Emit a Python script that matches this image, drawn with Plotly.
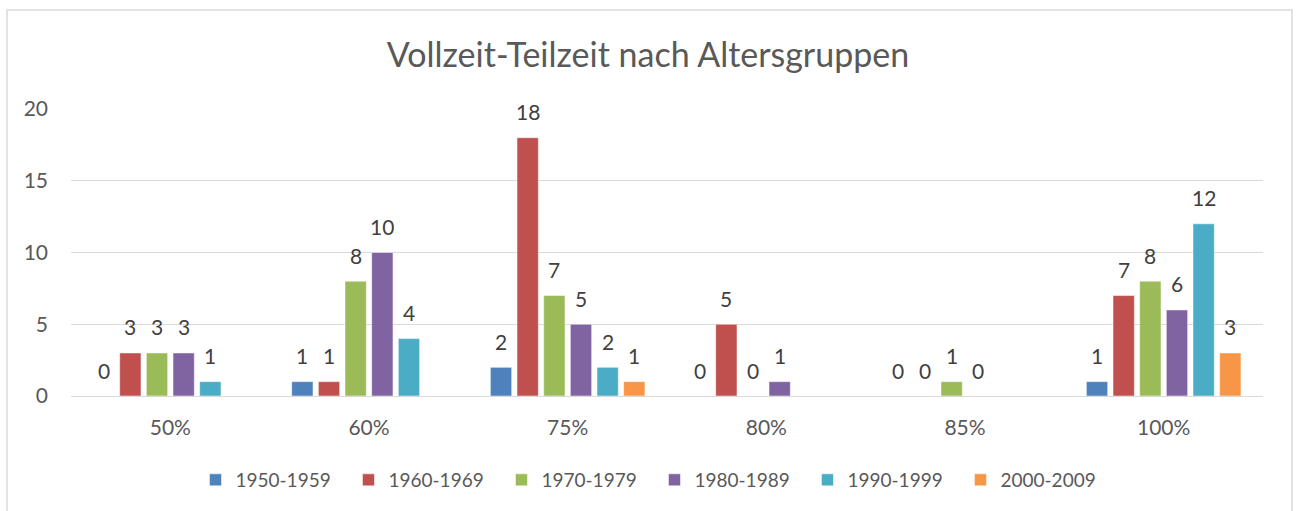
import plotly.graph_objects as go

categories = ["50%", "60%", "75%", "80%", "85%", "100%"]
series_names = ["1950-1959", "1960-1969", "1970-1979", "1980-1989", "1990-1999", "2000-2009"]
s1950 = [0, 1, 2, 0, 0, 1]
s1960 = [3, 1, 18, 5, 0, 7]
s1970 = [3, 8, 7, 0, 1, 8]
s1980 = [3, 10, 5, 1, 0, 6]
s1990 = [1, 4, 2, None, None, 12]
s2000 = [None, None, 1, None, None, 3]
series_values = [s1950, s1960, s1970, s1980, s1990, s2000]
colors = ["#4F81BD", "#C0504D", "#9BBB59", "#8064A2", "#4BACC6", "#F79646"]

W, H = 1296, 511
ML, MR, MT, MB = 71, 33, 109, 115
BARGAP, BARGROUPGAP = 0.195, 0.2
FONT = "Lato"
TXT = "#595959"

fig = go.Figure()
for name, vals, col in zip(series_names, series_values, colors):
    fig.add_trace(go.Bar(
        x=categories, y=vals, name=name,
        marker=dict(color=col, line=dict(color="rgba(255,255,255,0.5)", width=1)),
    ))

# data labels above bars
plot_w = W - ML - MR
cat_w = plot_w / len(categories)
slot = cat_w * (1 - BARGAP) / len(series_names)
annotations = []
for i, vals in enumerate(series_values):
    for cat, v in zip(categories, vals):
        if v is None:
            continue
        annotations.append(dict(
            x=cat, y=v, xref="x", yref="y", text=str(v), showarrow=False,
            xshift=(i - (len(series_names) - 1) / 2) * slot, yshift=26,
            yanchor="middle", font=dict(family=FONT, size=21, color="#404040"),
        ))

fig.update_layout(
    width=W, height=H, autosize=False,
    margin=dict(l=ML, r=MR, t=MT, b=MB),
    paper_bgcolor="white", plot_bgcolor="white",
    barmode="group", bargap=BARGAP, bargroupgap=BARGROUPGAP,
    font=dict(family=FONT, size=20, color=TXT),
    title=dict(text="Vollzeit-Teilzeit nach Altersgruppen", x=0.5, xref="container",
               y=1 - 55 / H, yref="container", yanchor="middle", xanchor="center",
               font=dict(family=FONT, size=34, color=TXT)),
    xaxis=dict(type="category", showgrid=False, showline=False, ticks="",
               ticklabelstandoff=17, tickfont=dict(size=21, color=TXT)),
    yaxis=dict(range=[0, 20], dtick=5, showgrid=True, gridcolor="#D9D9D9", gridwidth=1,
               zeroline=True, zerolinecolor="#D9D9D9", zerolinewidth=1, showline=False,
               ticks="", ticklabelstandoff=22, tickfont=dict(size=21, color=TXT)),
    legend=dict(orientation="h", x=0.505, xref="container", xanchor="center",
                y=1 - 480 / H, yref="container", yanchor="middle",
                font=dict(family=FONT, size=19, color=TXT),
                entrywidth=108, entrywidthmode="pixels", itemclick=False),
    annotations=annotations,
    shapes=[dict(type="rect", xref="paper", yref="paper",
                 x0=(7 - ML) / plot_w, x1=(1292 - ML) / plot_w,
                 y0=-(530 - (H - MB)) / (H - MT - MB), y1=((H - MB) - 10) / (H - MT - MB),
                 line=dict(color="#D9D9D9", width=1.5), fillcolor="rgba(0,0,0,0)",
                 layer="below")],
    showlegend=True,
)

fig.write_html("out.html", config={"displayModeBar": False},
               post_script="document.body.style.margin='0';")
